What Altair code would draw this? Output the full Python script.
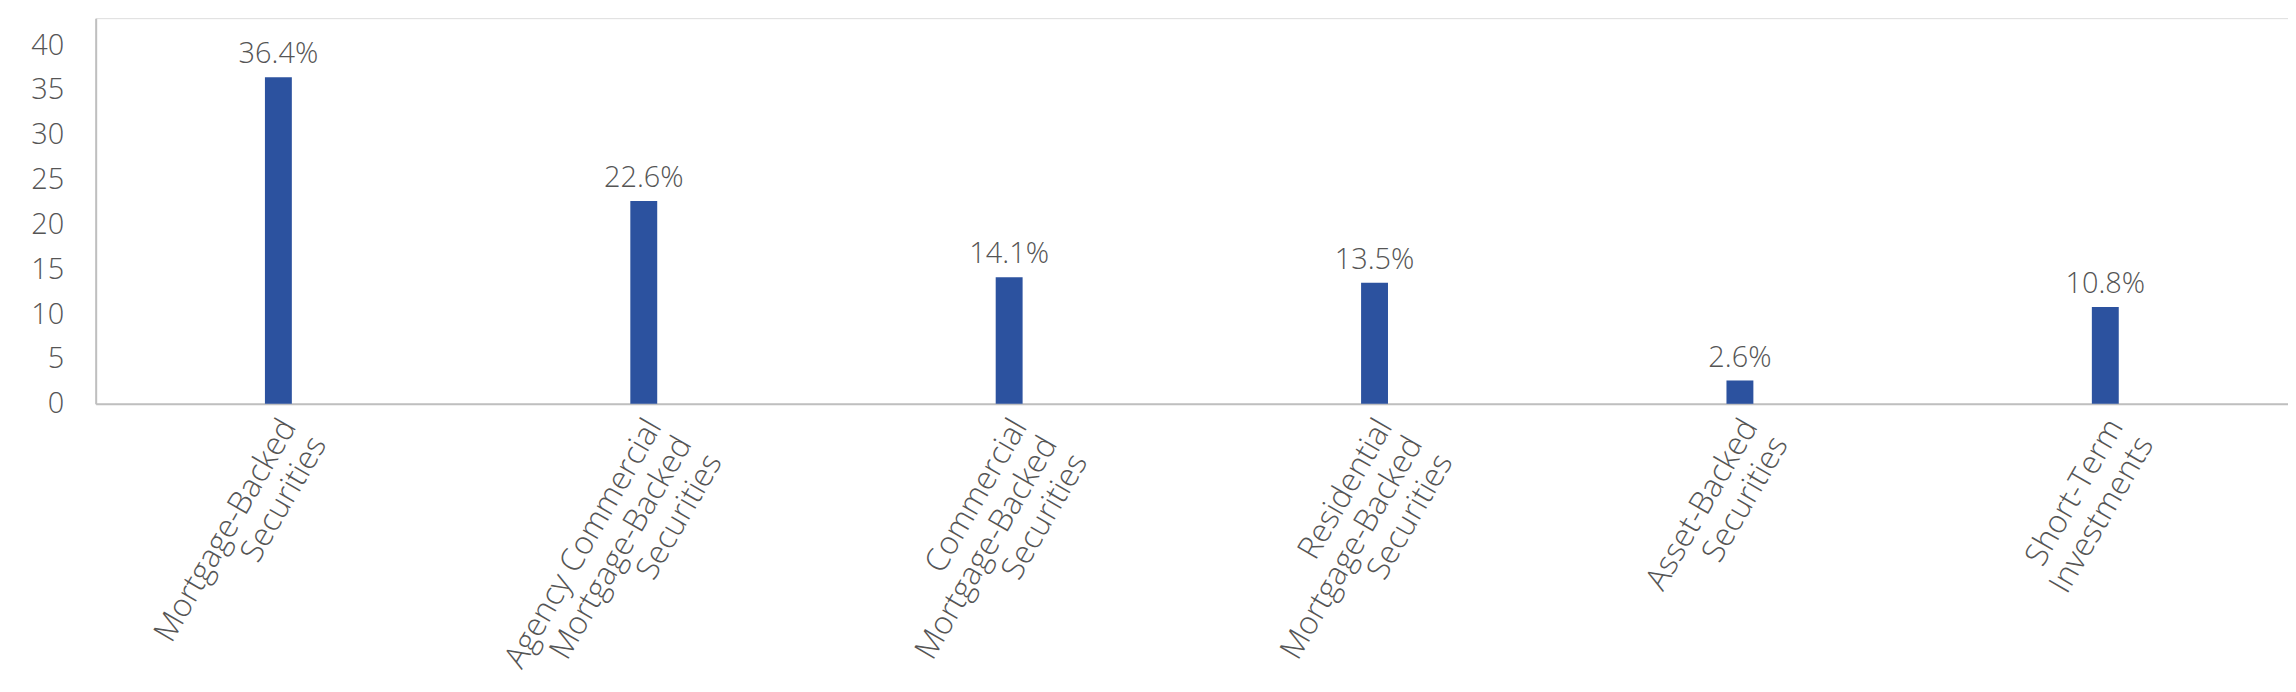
import altair as alt
import pandas as pd

# Category labels ("|" marks a line break in the axis label)
categories = [
    "Mortgage-Backed|Securities",
    "Agency Commercial|Mortgage-Backed|Securities",
    "Commercial|Mortgage-Backed|Securities",
    "Residential|Mortgage-Backed|Securities",
    "Asset-Backed|Securities",
    "Short-Term|Investments",
]
values = [36.4, 22.6, 14.1, 13.5, 2.6, 10.8]
value_labels = ["36.4%", "22.6%", "14.1%", "13.5%", "2.6%", "10.8%"]
y_ticks = [0, 5, 10, 15, 20, 25, 30, 35, 40]

df = pd.DataFrame({"category": categories, "value": values, "label": value_labels})

FONT = "Open Sans"
TEXT_COLOR = "#555555"
BAR_COLOR = "#2C529F"
AXIS_COLOR = "#BFBFBF"

x = alt.X(
    "category:N",
    sort=categories,
    scale=alt.Scale(paddingInner=0, paddingOuter=0),
    axis=alt.Axis(
        title=None,
        labelExpr="split(datum.label, '|')",
        labelAngle=-60,
        labelAlign="right",
        labelBaseline="top",
        labelFontSize=32,
        labelFontWeight=300,
        labelLineHeight=35,
        labelPadding=10,
        labelOffset=-3,
        labelLimit=1000,
        labelColor=TEXT_COLOR,
        labelFont=FONT,
        ticks=False,
        domainColor=AXIS_COLOR,
        domainWidth=2,
    ),
)
y = alt.Y(
    "value:Q",
    scale=alt.Scale(domain=[0, 43], nice=False),
    axis=alt.Axis(
        title=None,
        values=y_ticks,
        grid=False,
        ticks=False,
        labelFontSize=29,
        labelFontWeight=300,
        labelPadding=32,
        labelColor=TEXT_COLOR,
        labelFont=FONT,
        domainColor=AXIS_COLOR,
        domainWidth=2,
    ),
)

bars = alt.Chart(df).mark_bar(size=27, color=BAR_COLOR).encode(x=x, y=y)
text = alt.Chart(df).mark_text(
    baseline="bottom", dy=-8, fontSize=29, fontWeight=300, font=FONT, color=TEXT_COLOR
).encode(x=alt.X("category:N", sort=categories), y="value:Q", text="label:N")

chart = (
    alt.layer(bars, text)
    .properties(
        width=2200,
        height=387,
        autosize=alt.AutoSizeParams(type="none"),
        padding={"left": 88, "top": 9, "right": 0, "bottom": 280},
    )
    .configure_view(stroke=None)
    .configure(background="white")
)

chart.save("out.html", embed_options={"renderer": "svg", "actions": False})
